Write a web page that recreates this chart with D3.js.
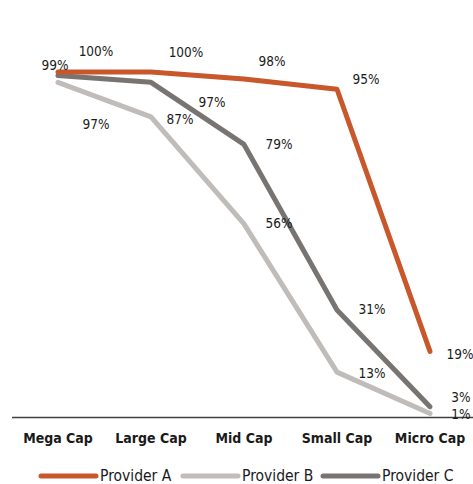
<!DOCTYPE html>
<html>
<head>
<meta charset="utf-8">
<script src="https://cdn.jsdelivr.net/npm/d3@7"></script>
<style>
  html, body { margin: 0; padding: 0; background: #fff; }
  svg { display: block; }
  .lbl { font-family: "DejaVu Sans Condensed", "DejaVu Sans", sans-serif; font-size: 13.5px; fill: #1a1a1a; }
  .cat text { font-family: "DejaVu Sans Condensed", "DejaVu Sans", sans-serif; font-weight: bold; font-size: 14px; fill: #1a1a1a; }
  .leg { font-family: "DejaVu Sans Condensed", "DejaVu Sans", sans-serif; font-size: 15.5px; fill: #1a1a1a; }
</style>
</head>
<body>
<svg id="chart" width="473" height="484"></svg>
<script>
// Coverage by market-cap segment, in percent
const categories = ["Mega Cap", "Large Cap", "Mid Cap", "Small Cap", "Micro Cap"];
const providerA = [100, 100, 98, 95, 19];
const providerB = [97, 87, 56, 13, 1];
const providerC = [99, 97, 79, 31, 3];
const seriesNames = ["Provider A", "Provider B", "Provider C"];

const colors = { "Provider A": "#C9572C", "Provider B": "#BFBCB9", "Provider C": "#777471" };

// Hand-placed label offsets (px from the point) so labels avoid the lines
const labelNudge = {
  "Provider A": [[38, -21], [35, -20], [28, -18], [29, -10], [30, 3]],
  "Provider B": [[38, 42], [29, 2], [35, -1], [35, 1], [31, 1]],
  "Provider C": [[-3, -10], [61, 20], [35, 0], [35, -1], [31, -9]]
};

const series = [
  { name: "Provider A", values: providerA },
  { name: "Provider B", values: providerB },
  { name: "Provider C", values: providerC }
];

const svg = d3.select("#chart");

const x = d3.scaleBand().domain(categories).range([11.5, 476.5]).padding(0);
const y = d3.scaleLinear().domain([0, 100]).range([417, 72]);
const cx = c => x(c) + x.bandwidth() / 2;

// Category axis along the zero line
const axis = svg.append("g")
  .attr("class", "cat")
  .attr("transform", `translate(0,${y(0)})`)
  .call(d3.axisBottom(x).tickSize(0).tickSizeOuter(0).tickPadding(16));
axis.select(".domain").attr("stroke", "#404040").attr("stroke-width", 1.3);
axis.selectAll(".tick line").remove();

const line = d3.line()
  .x((d, i) => cx(categories[i]))
  .y(d => y(d));

// Draw order: light series first, orange on top
const drawOrder = ["Provider B", "Provider C", "Provider A"];
drawOrder.forEach(name => {
  const s = series.find(d => d.name === name);
  svg.append("path")
    .datum(s.values)
    .attr("fill", "none")
    .attr("stroke", colors[name])
    .attr("stroke-width", 5)
    .attr("stroke-linecap", "round")
    .attr("stroke-linejoin", "round")
    .attr("d", line);
});

// Value labels
series.forEach(s => {
  svg.append("g").selectAll("text")
    .data(s.values)
    .join("text")
    .attr("class", "lbl")
    .attr("text-anchor", "middle")
    .attr("x", (d, i) => cx(categories[i]) + labelNudge[s.name][i][0])
    .attr("y", (d, i) => y(d) + labelNudge[s.name][i][1])
    .attr("dy", "0.35em")
    .text(d => d + "%");
});

// Legend
const legendX = [41, 183, 323];
const legend = svg.append("g").attr("transform", "translate(0,476)");
seriesNames.forEach((name, i) => {
  legend.append("line")
    .attr("x1", legendX[i]).attr("x2", legendX[i] + 55)
    .attr("y1", 0).attr("y2", 0)
    .attr("stroke", colors[name])
    .attr("stroke-width", 5)
    .attr("stroke-linecap", "round");
  legend.append("text")
    .attr("class", "leg")
    .attr("x", legendX[i] + 59)
    .attr("y", 4.5)
    .text(name);
});
</script>
</body>
</html>
